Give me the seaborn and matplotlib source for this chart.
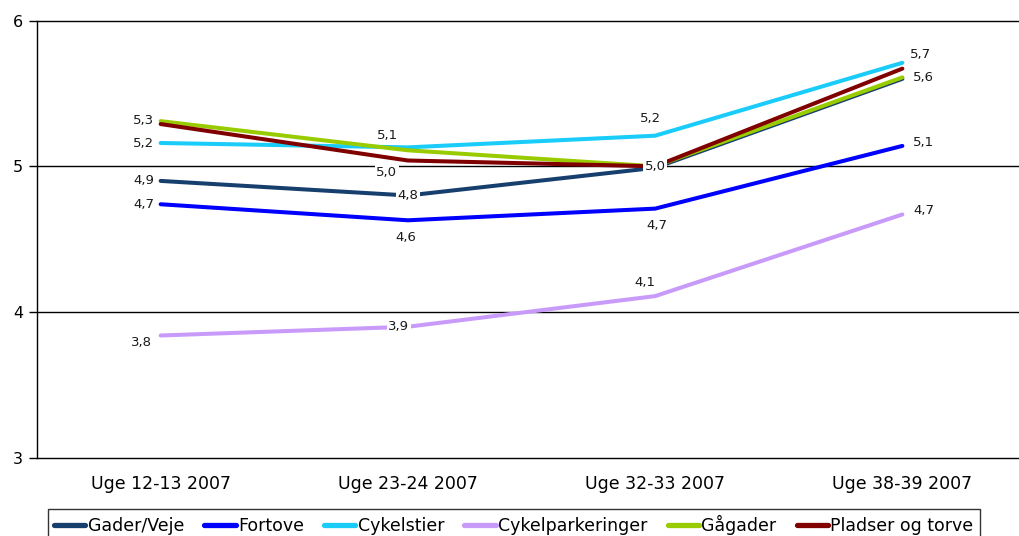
import matplotlib
matplotlib.use("Agg")
import matplotlib.pyplot as plt
from matplotlib.lines import Line2D
import numpy as np
import pandas as pd
import seaborn as sns

# Survey periods
periods = ["Uge 12-13 2007", "Uge 23-24 2007", "Uge 32-33 2007", "Uge 38-39 2007"]

# Average scores per area type
gader_veje = [4.90, 4.80, 4.99, 5.60]
fortove = [4.74, 4.63, 4.71, 5.14]
cykelstier = [5.16, 5.13, 5.21, 5.71]
cykelparkeringer = [3.84, 3.90, 4.11, 4.67]
gaagader = [5.31, 5.11, 5.00, 5.61]
pladser_og_torve = [5.29, 5.04, 5.00, 5.67]

series_names = ["Gader/Veje", "Fortove", "Cykelstier", "Cykelparkeringer",
                "Gågader", "Pladser og torve"]
series_values = [gader_veje, fortove, cykelstier, cykelparkeringer,
                 gaagader, pladser_og_torve]
colors = ["#173F6E", "#0000FF", "#19CCFA", "#C89BFA", "#99CC00", "#800000"]

y_ticks = [3, 4, 5, 6]

# Which points get a value label, with pixel offsets (dx, dy) for each
label_offsets = {
    "Gader/Veje": {0: (-17, 0), 1: (0, 0), 2: (0, 1)},
    "Fortove": {0: (-17, 0), 1: (-2, -17), 2: (2, -17), 3: (21, 3)},
    "Cykelstier": {0: (-17, 0), 1: (-20, 12), 2: (-5, 17), 3: (18, 8)},
    "Cykelparkeringer": {0: (-19, -7), 1: (-9, 0), 2: (-10, 14), 3: (21, 4)},
    "Gågader": {0: (-17, 1), 3: (21, 0)},
    "Pladser og torve": {1: (-21, -12)},
}

rows = []
for name, vals in zip(series_names, series_values):
    for p, v in zip(periods, vals):
        rows.append({"Periode": p, "Score": v, "Serie": name})
df = pd.DataFrame(rows)

sns.set_style("white")
plt.rcParams["font.family"] = ["DejaVu Sans"]
plt.rcParams["text.color"] = "black"

fig = plt.figure(figsize=(10.19, 5.36), dpi=100)
ax = fig.add_axes([37 / 1019, 78 / 536, 989 / 1019, 437.5 / 536])

sns.lineplot(data=df, x="Periode", y="Score", hue="Serie",
             hue_order=series_names, palette=colors, linewidth=2.9,
             sort=False, legend=False, ax=ax, zorder=3)

ax.set_xlim(-0.5, 3.5)
ax.set_ylim(3, 6)
ax.set_yticks(y_ticks)
ax.set_yticklabels([str(t) for t in y_ticks], fontsize=11.5, color="black")
ax.set_xticks(range(len(periods)))
ax.set_xticklabels(periods, fontsize=12.5, color="black")
ax.set_xticks([0.5, 1.5, 2.5], minor=True)
ax.tick_params(axis="x", which="major", length=0, pad=12)
ax.tick_params(axis="x", which="minor", length=5, width=1, direction="out",
               color="black")
ax.tick_params(axis="y", which="major", length=6, width=1, direction="out",
               color="black", left=True, pad=4)
ax.set_xlabel("")
ax.set_ylabel("")

for y in y_ticks:
    ax.axhline(y, color="black", lw=1, zorder=1, clip_on=False)
for side in ["top", "right", "bottom"]:
    ax.spines[side].set_visible(False)
ax.spines["left"].set_color("black")
ax.spines["left"].set_linewidth(1)

# Value labels
for name, vals in zip(series_names, series_values):
    for i, (dx, dy) in label_offsets[name].items():
        txt = f"{vals[i]:.1f}".replace(".", ",")
        ax.annotate(txt, xy=(i, vals[i]), xytext=(dx, dy),
                    textcoords="offset pixels", ha="center", va="center",
                    fontsize=9.5, color="#1a1a1a", zorder=5,
                    bbox=dict(boxstyle="square,pad=0.1", fc="white",
                              ec="none"))

handles = [Line2D([0], [0], color=c, lw=3.8, solid_capstyle="round")
           for c in colors]
leg = fig.legend(handles, series_names, loc="upper left",
                 bbox_to_anchor=(48 / 1019, 1 - 509 / 536), ncol=6,
                 fontsize=12.5, frameon=True, fancybox=False,
                 edgecolor="black", handlelength=1.8, handletextpad=0.15,
                 columnspacing=1.15, borderpad=0.35, borderaxespad=0)
leg.get_frame().set_linewidth(1)

fig.savefig("out.png", dpi=100)
